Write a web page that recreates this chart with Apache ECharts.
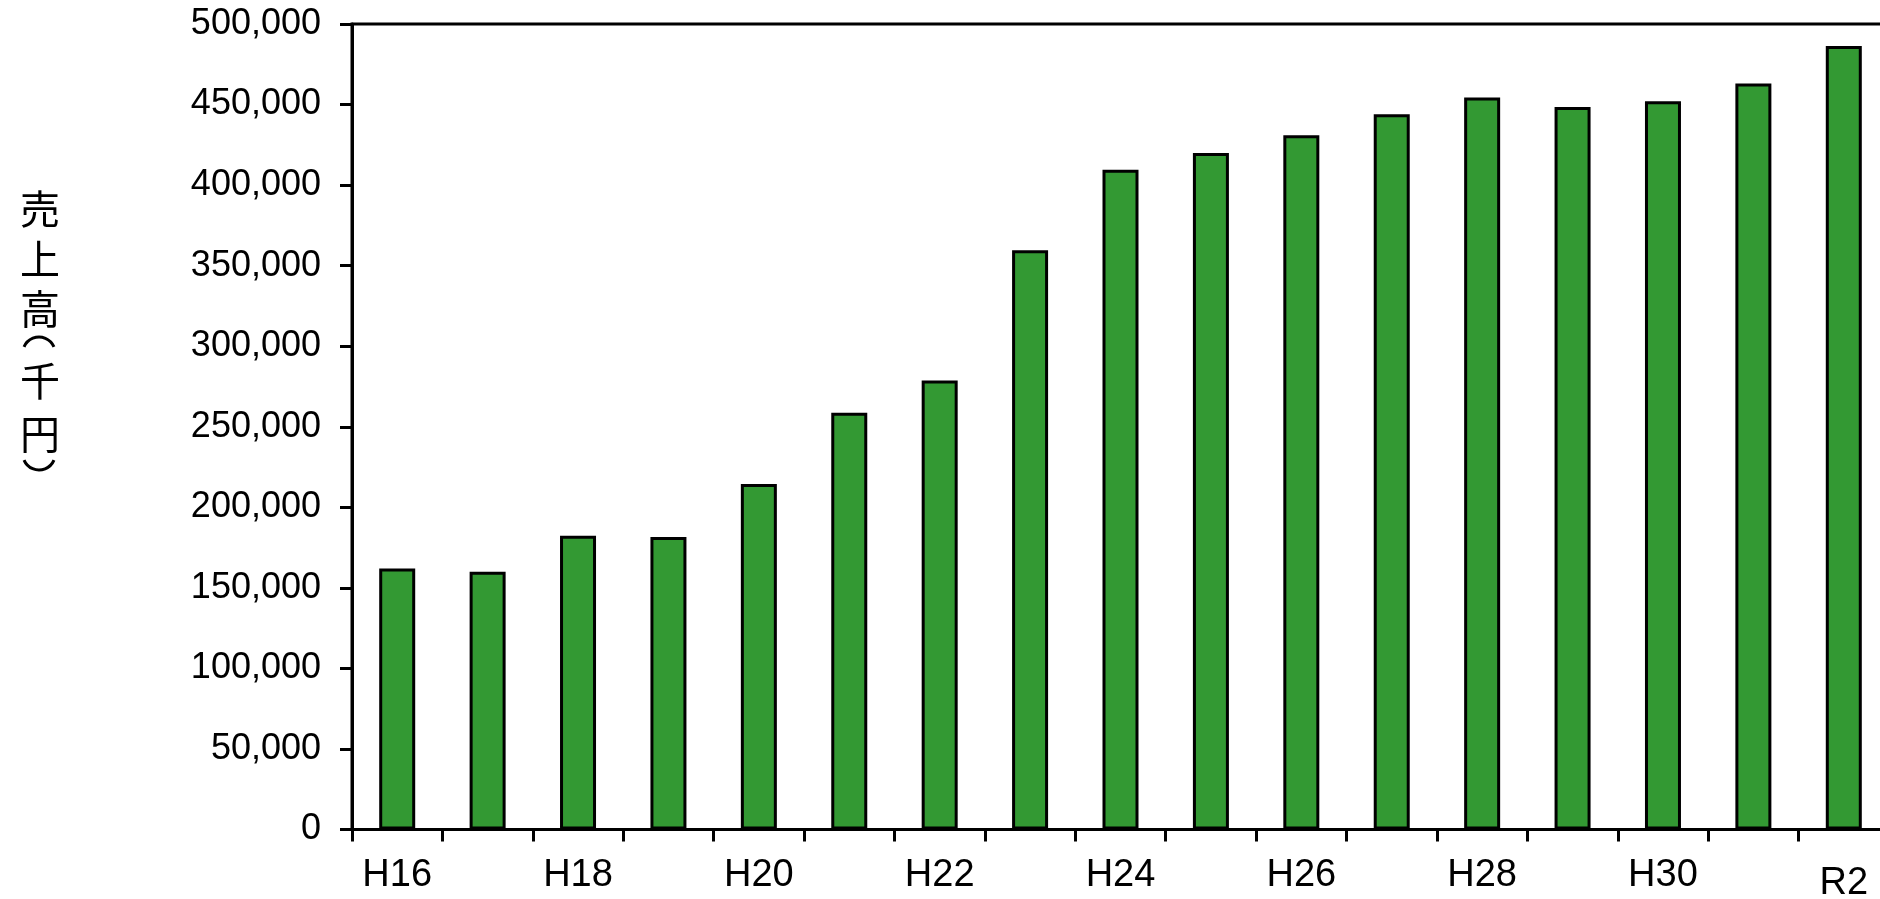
<!DOCTYPE html>
<html>
<head>
<meta charset="utf-8">
<script src="https://cdn.jsdelivr.net/npm/echarts@6/dist/echarts.min.js"></script>
<style>
html,body{margin:0;padding:0;background:#fff;}
#chart{width:1880px;height:899px;}
</style>
</head>
<body>
<div id="chart"></div>
<script>
const categories = ['H16','H17','H18','H19','H20','H21','H22','H23','H24','H25','H26','H27','H28','H29','H30','R1','R2'];
const sales = [162000,160000,182400,181600,214500,258700,278700,359600,409600,420000,431000,444000,454300,448500,452000,463000,486400];
const yTitleChars = ['売','上','高','︵','千','円','︶'];

const chart = echarts.init(document.getElementById('chart'));

// vertical axis title: CJK chars stacked; vertical-form parentheses drawn as arcs
const titleX = 40;
const titleCenters = [209, 259, 309, 342, 381, 434, 465];
const parenR = 16.25;
const parenHalf = 1.17;
const titleGraphics = yTitleChars.map(function (c, i) {
  if (c === '︵' || c === '︶') {
    const up = (c === '︵');
    const mid = up ? 1.5 * Math.PI : 0.5 * Math.PI;
    return {
      type: 'arc',
      shape: {
        cx: titleX - 1,
        cy: up ? titleCenters[i] - 5 + parenR : titleCenters[i] + 5 - parenR,
        r: parenR,
        startAngle: mid - parenHalf,
        endAngle: mid + parenHalf,
        clockwise: true
      },
      style: { stroke: '#000', lineWidth: 3, fill: null }
    };
  }
  return {
    type: 'text',
    x: titleX,
    y: titleCenters[i],
    style: {
      text: c,
      fill: '#000',
      fontFamily: 'Noto Sans CJK JP',
      fontSize: 40,
      align: 'center',
      verticalAlign: 'middle'
    }
  };
});

chart.setOption({
  backgroundColor: '#fff',
  animation: false,
  graphic: titleGraphics,
  grid: {
    left: 352,
    right: -9,
    top: 24,
    bottom: 69.5,
    outerBoundsMode: 'none',
    containLabel: false,
    show: true,
    borderColor: '#000',
    borderWidth: 3,
    backgroundColor: '#fff'
  },
  xAxis: {
    type: 'category',
    data: categories,
    boundaryGap: true,
    axisLine: { lineStyle: { color: '#000', width: 3 } },
    axisTick: { show: true, interval: 0, length: 12, lineStyle: { color: '#000', width: 3 } },
    axisLabel: {
      interval: 1,
      margin: 27,
      color: '#000',
      fontFamily: 'Liberation Sans',
      fontSize: 38,
      formatter: function (v) { return v === 'R2' ? '{r|' + v + '}' : v; },
      rich: { r: { fontFamily: 'Liberation Sans', fontSize: 38, color: '#000', padding: [8, 0, 0, 0] } }
    },
    splitLine: { show: false }
  },
  yAxis: {
    type: 'value',
    min: 0,
    max: 500000,
    interval: 50000,
    axisLine: { show: true, lineStyle: { color: '#000', width: 3 } },
    axisTick: { show: true, length: 12, lineStyle: { color: '#000', width: 3 } },
    axisLabel: {
      margin: 31,
      color: '#000',
      fontFamily: 'Liberation Sans',
      fontSize: 36
    },
    splitLine: { show: false }
  },
  series: [{
    type: 'bar',
    data: sales,
    barWidth: 36,
    itemStyle: { color: '#339933', borderColor: '#000', borderWidth: 3 }
  }]
});
</script>
</body>
</html>
